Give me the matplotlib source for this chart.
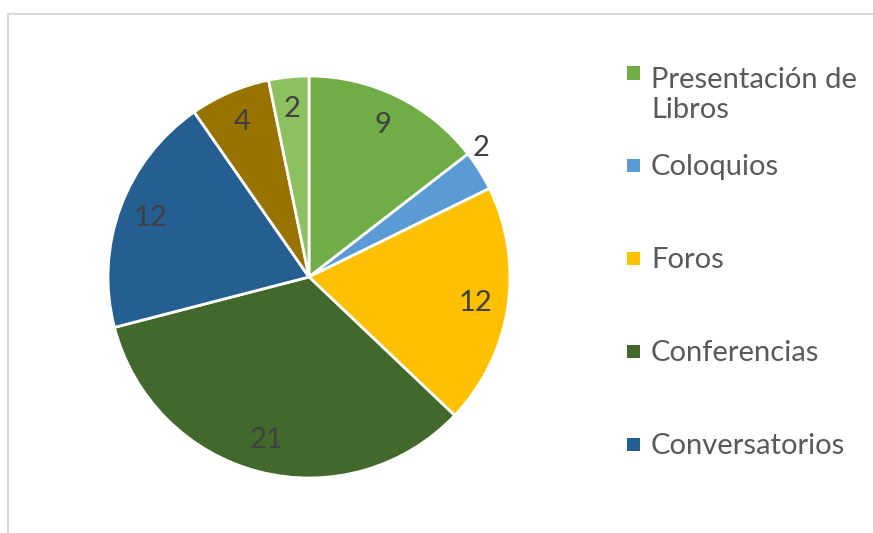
import numpy as np
import matplotlib
matplotlib.use('Agg')
import matplotlib.pyplot as plt
from matplotlib.lines import Line2D
from matplotlib.patches import Rectangle

# Datos (sentido horario desde arriba)
valores = [9, 2, 12, 21, 12, 4, 2]
colores = ['#70AD47', '#5B9BD5', '#FFC000', '#43682B', '#255E91', '#997300', '#8DC05F']
etiquetas_leyenda = ['Presentación de\nLibros', 'Coloquios', 'Foros',
                     'Conferencias', 'Conversatorios']

plt.rcParams['font.family'] = ['Lato', 'DejaVu Sans']

W, H = 873, 533
fig = plt.figure(figsize=(W / 100, H / 100), dpi=100)

# Marco gris del área del gráfico
fig.add_artist(Line2D([8 / W, 8 / W], [0, 1 - 14 / H], transform=fig.transFigure,
                      color='#D9D9D9', lw=1.5))
fig.add_artist(Line2D([8 / W, 1], [1 - 14 / H, 1 - 14 / H], transform=fig.transFigure,
                      color='#D9D9D9', lw=1.5))

cx, cy, r = 309, 533 - 277, 201
ax = fig.add_axes([(cx - r) / W, (cy - r) / H, 2 * r / W, 2 * r / H])
wedges, _ = ax.pie(valores, colors=colores, startangle=90, counterclock=False,
                   radius=1, wedgeprops=dict(edgecolor='white', linewidth=2))
ax.set_xlim(-1, 1)
ax.set_ylim(-1, 1)
ax.axis('off')

# Etiquetas de datos
for i, (w, v) in enumerate(zip(wedges, valores)):
    ang = np.deg2rad((w.theta1 + w.theta2) / 2)
    d = 0.84
    if i == 1:
        d = 1.07
        ang = ang + np.deg2rad(5)
    ax.text(d * np.cos(ang), d * np.sin(ang), str(v), ha='center', va='center',
            fontsize=21, color='#404040')

# Leyenda (solo las entradas visibles)
ys = [73, 165, 258, 351, 444]
for lab, col, y in zip(etiquetas_leyenda, colores, ys):
    fig.add_artist(Rectangle((627 / W, 1 - (y + 6.5) / H), 13 / W, 13 / H,
                             transform=fig.transFigure, facecolor=col, edgecolor='none'))
    extra = 35 * lab.count('\n')  # la línea base es la de la última línea
    fig.text(651 / W, 1 - (y + 10 + extra) / H, lab, ha='left', va='baseline',
             fontsize=21, color='#595959', linespacing=1.2)

fig.savefig('out.png', dpi=100)
